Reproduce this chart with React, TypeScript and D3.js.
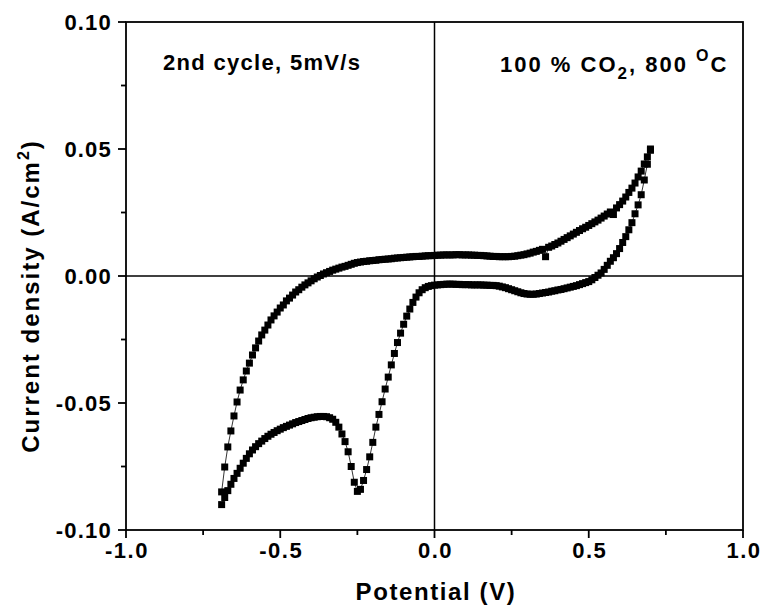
import React from "react";
import * as d3 from "d3";

const potential = [
  -0.69, -0.68, -0.67, -0.66, -0.65, -0.64, -0.63, -0.62, -0.61, -0.6,
  -0.59, -0.58, -0.57, -0.56, -0.55, -0.54, -0.53, -0.52, -0.51, -0.5,
  -0.49, -0.48, -0.47, -0.46, -0.45, -0.44, -0.43, -0.42, -0.41, -0.4,
  -0.39, -0.38, -0.37, -0.36, -0.35, -0.34, -0.33, -0.32, -0.31, -0.3,
  -0.29, -0.28, -0.27, -0.26, -0.25, -0.24, -0.23, -0.22, -0.21, -0.2,
  -0.19, -0.18, -0.17, -0.16, -0.15, -0.14, -0.13, -0.12, -0.11, -0.1,
  -0.09, -0.08, -0.07, -0.06, -0.05, -0.04, -0.03, -0.02, -0.01, 0.0,
  0.01, 0.02, 0.03, 0.04, 0.05, 0.06, 0.07, 0.08, 0.09, 0.1,
  0.11, 0.12, 0.13, 0.14, 0.15, 0.16, 0.17, 0.18, 0.19, 0.2,
  0.21, 0.22, 0.23, 0.24, 0.25, 0.26, 0.27, 0.28, 0.29, 0.3,
  0.31, 0.32, 0.33, 0.34, 0.35, 0.36, 0.37, 0.38, 0.39, 0.4,
  0.41, 0.42, 0.43, 0.44, 0.45, 0.46, 0.47, 0.48, 0.49, 0.5,
  0.51, 0.52, 0.53, 0.54, 0.55, 0.56, 0.57, 0.58, 0.59, 0.6,
  0.61, 0.62, 0.63, 0.64, 0.65, 0.66, 0.67, 0.68, 0.69, 0.7,
];

// anodic (forward) sweep current, A/cm2, aligned with potential
const anodicCurrent = [
  -0.085, -0.0752, -0.0673, -0.061, -0.0551, -0.0496, -0.0449, -0.0409, -0.0374, -0.0343,
  -0.0311, -0.0283, -0.0256, -0.0232, -0.0213, -0.0193, -0.0173, -0.0157, -0.0142, -0.0126,
  -0.0114, -0.0098, -0.0087, -0.0075, -0.0063, -0.0054, -0.0044, -0.0035, -0.0027, -0.0019,
  -0.0011, -0.0004, 0.0002, 0.0008, 0.0013, 0.0018, 0.0023, 0.0027, 0.0031, 0.0035,
  0.0038, 0.0042, 0.0046, 0.005, 0.0053, 0.0055, 0.0057, 0.0058, 0.006, 0.0061,
  0.0062, 0.0064, 0.0065, 0.0066, 0.0067, 0.0068, 0.007, 0.0071, 0.0072, 0.0073,
  0.0074, 0.0075, 0.0076, 0.0077, 0.0077, 0.0078, 0.0079, 0.008, 0.008, 0.0081,
  0.0082, 0.0082, 0.0083, 0.0083, 0.0083, 0.0083, 0.0084, 0.0084, 0.0083, 0.0083,
  0.0083, 0.0082, 0.0082, 0.0081, 0.0081, 0.008, 0.0079, 0.0078, 0.0077, 0.0077,
  0.0076, 0.0076, 0.0076, 0.0076, 0.0077, 0.0078, 0.008, 0.0082, 0.0084, 0.0087,
  0.009, 0.0094, 0.0097, 0.0101, 0.0105, 0.0076, 0.0113, 0.0118, 0.0124, 0.013,
  0.0137, 0.0144, 0.0151, 0.0158, 0.0165, 0.0172, 0.0179, 0.0186, 0.0192, 0.0199,
  0.0206, 0.0213, 0.022, 0.0228, 0.0236, 0.0244, 0.0252, 0.0242, 0.0268, 0.0281,
  0.0295, 0.0311, 0.0329, 0.0346, 0.0366, 0.039, 0.0413, 0.0441, 0.0469, 0.05,
];

// cathodic (reverse) sweep current, A/cm2, aligned with potential
const cathodicCurrent = [
  -0.09, -0.0872, -0.0845, -0.082, -0.0797, -0.0777, -0.0757, -0.0737, -0.0718, -0.07,
  -0.0685, -0.0672, -0.066, -0.065, -0.064, -0.0631, -0.0623, -0.0616, -0.0609, -0.0603,
  -0.0597, -0.0592, -0.0587, -0.0582, -0.0577, -0.0573, -0.0569, -0.0565, -0.0561, -0.0558,
  -0.0556, -0.0554, -0.0553, -0.0553, -0.0554, -0.0558, -0.0564, -0.0576, -0.0595, -0.0622,
  -0.0652, -0.0692, -0.075, -0.0812, -0.0848, -0.084, -0.0805, -0.0762, -0.0712, -0.0655,
  -0.0595, -0.0545, -0.0495, -0.0445, -0.0398, -0.035, -0.0305, -0.0262, -0.0225, -0.019,
  -0.0158, -0.013, -0.0104, -0.0083, -0.0066, -0.0054, -0.0046, -0.0041, -0.0038, -0.0036,
  -0.0035, -0.0034, -0.0033, -0.0032, -0.0032, -0.0032, -0.0033, -0.0033, -0.0034, -0.0034,
  -0.0034, -0.0035, -0.0035, -0.0035, -0.0035, -0.0036, -0.0036, -0.0037, -0.0037, -0.0038,
  -0.004, -0.0043, -0.0046, -0.005, -0.0054, -0.0058, -0.0062, -0.0066, -0.0069, -0.0071,
  -0.0072, -0.0072, -0.0071, -0.0069, -0.0067, -0.0065, -0.0063, -0.006, -0.0058, -0.0055,
  -0.0053, -0.005, -0.0047, -0.0044, -0.0041, -0.0038, -0.0034, -0.003, -0.0026, -0.0022,
  -0.0015, -0.0006, 0.0003, 0.0012, 0.0026, 0.0042, 0.0058, 0.0072, 0.0088, 0.0108,
  0.0132, 0.0155, 0.0182, 0.021, 0.0245, 0.028, 0.032, 0.0378, 0.044, 0.0495,
];

const xTicks = [-1.0, -0.5, 0.0, 0.5, 1.0];
const xTickLabels = ["-1.0", "-0.5", "0.0", "0.5", "1.0"];
const xMinorTicks = [-0.75, -0.25, 0.25, 0.75];
const yTicks = [-0.1, -0.05, 0.0, 0.05, 0.1];
const yTickLabels = ["-0.10", "-0.05", "0.00", "0.05", "0.10"];
const yMinorTicks = [-0.075, -0.025, 0.025, 0.075];

const FONT = "'Liberation Sans', Arial, Helvetica, sans-serif";

export default function App() {
  const W = 762;
  const H = 606;
  const left = 126;
  const right = 743;
  const top = 22;
  const bottom = 530;
  const x = d3.scaleLinear().domain([-1, 1]).range([left, right]);
  const y = d3.scaleLinear().domain([-0.1, 0.1]).range([bottom, top]);

  type P = [number, number];
  const forward: P[] = potential.map((v, i) => [v, anodicCurrent[i]]);
  const reverse: P[] = potential.map((v, i) => [v, cathodicCurrent[i]] as P).reverse();
  const loop: P[] = [...forward, ...reverse];
  const line = d3
    .line<P>()
    .x((d) => x(d[0]))
    .y((d) => y(d[1]));

  const ms = 7;

  return (
    <svg
      width={W}
      height={H}
      style={{ position: "absolute", left: 0, top: 0, display: "block", background: "#fff" }}
      fontFamily={FONT}
      fontWeight="bold"
    >
      <rect x={0} y={0} width={W} height={H} fill="#fff" />
      {/* zero lines */}
      <line x1={left} x2={right} y1={y(0)} y2={y(0)} stroke="#000" strokeWidth={1.5} />
      <line x1={x(0)} x2={x(0)} y1={top} y2={bottom} stroke="#000" strokeWidth={1.5} />

      {/* data */}
      <path d={line(loop) || ""} fill="none" stroke="#000" strokeWidth={0.8} />
      {loop.map((d, i) => (
        <rect key={i} x={x(d[0]) - ms / 2} y={y(d[1]) - ms / 2} width={ms} height={ms} fill="#000" />
      ))}

      {/* frame */}
      <rect x={left} y={top} width={right - left} height={bottom - top} fill="none" stroke="#000" strokeWidth={1.8} />

      {/* x ticks */}
      {xTicks.map((t) => (
        <line key={"xt" + t} x1={x(t)} x2={x(t)} y1={bottom} y2={bottom + 8} stroke="#000" strokeWidth={1.8} />
      ))}
      {xMinorTicks.map((t) => (
        <line key={"xm" + t} x1={x(t)} x2={x(t)} y1={bottom} y2={bottom + 5} stroke="#000" strokeWidth={1.8} />
      ))}
      {xTicks.map((t, i) => (
        <text key={"xl" + t} x={x(t) + 1} y={558} textAnchor="middle" fontSize={22} letterSpacing={1.5}>
          {xTickLabels[i]}
        </text>
      ))}

      {/* y ticks */}
      {yTicks.map((t) => (
        <line key={"yt" + t} x1={left - 8} x2={left} y1={y(t)} y2={y(t)} stroke="#000" strokeWidth={1.8} />
      ))}
      {yMinorTicks.map((t) => (
        <line key={"ym" + t} x1={left - 5} x2={left} y1={y(t)} y2={y(t)} stroke="#000" strokeWidth={1.8} />
      ))}
      {yTicks.map((t, i) => (
        <text key={"yl" + t} x={112} y={y(t) + 8} textAnchor="end" fontSize={22} letterSpacing={1.2}>
          {yTickLabels[i]}
        </text>
      ))}

      {/* axis titles */}
      <text x={436} y={600} textAnchor="middle" fontSize={24} letterSpacing={1.6}>
        Potential (V)
      </text>
      <text
        transform={`translate(39, 296) rotate(-90)`}
        textAnchor="middle"
        fontSize={24}
        letterSpacing={2}
      >
        Current density (A/cm
        <tspan dy={-10} fontSize={16}>2</tspan>
        <tspan dy={10}>)</tspan>
      </text>

      {/* annotations */}
      <text x={163} y={70} fontSize={22} textLength={197} lengthAdjust="spacing">
        2nd cycle, 5mV/s
      </text>
      <text x={500} y={72} fontSize={22} letterSpacing={2}>
        100 % CO
        <tspan dy={7} fontSize={17}>2</tspan>
        <tspan dy={-7}>, 800 </tspan>
        <tspan dy={-11} fontSize={16}>O</tspan>
        <tspan dy={11}>C</tspan>
      </text>
    </svg>
  );
}
